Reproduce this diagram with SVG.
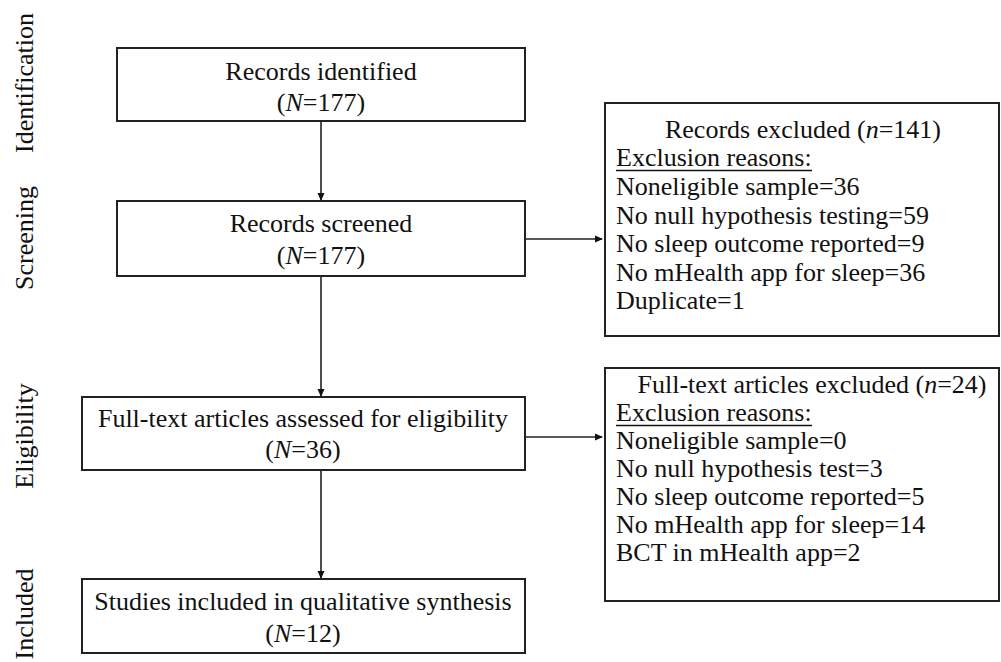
<svg xmlns="http://www.w3.org/2000/svg" width="1001" height="662" viewBox="0 0 1001 662">
<style>
text{font-family:"Liberation Serif","Times New Roman",serif;font-size:26px;fill:#111}
.c{text-anchor:middle}
.box{fill:#fff;stroke:#222;stroke-width:2}
.ln{stroke:#222;stroke-width:1.6;fill:none}
.ul{stroke:#111;stroke-width:1.6}
.lab{text-anchor:middle}
</style>
<defs>
<marker id="ah" markerWidth="8" markerHeight="8" refX="7" refY="4" orient="auto" markerUnits="userSpaceOnUse">
<path d="M0,0.5 L8,4 L0,7.5 Z" fill="#111"/>
</marker>
</defs>
<g id="stage-labels">
<text class="lab" transform="translate(33,83) rotate(-90)">Identification</text>
<text class="lab" transform="translate(33,238) rotate(-90)">Screening</text>
<text class="lab" transform="translate(33,436) rotate(-90)">Eligibility</text>
<text class="lab" transform="translate(33,614) rotate(-90)">Included</text>
</g>
<g id="connectors">
<line class="ln" x1="321" y1="121" x2="321" y2="200" marker-end="url(#ah)"/>
<line class="ln" x1="321" y1="276" x2="321" y2="396" marker-end="url(#ah)"/>
<line class="ln" x1="321" y1="470" x2="321" y2="578" marker-end="url(#ah)"/>
<line class="ln" x1="525" y1="239" x2="602" y2="239" marker-end="url(#ah)"/>
<line class="ln" x1="525" y1="437" x2="602" y2="437" marker-end="url(#ah)"/>
</g>
<g id="node-identified">
<rect class="box" x="117" y="48" width="408" height="73"/>
<text class="c" x="321" y="80">Records identified</text>
<text class="c" x="321" y="111">(<tspan font-style="italic">N</tspan>=177)</text>
</g>
<g id="node-screened">
<rect class="box" x="117" y="201" width="408" height="75"/>
<text class="c" x="321" y="232">Records screened</text>
<text class="c" x="321" y="264">(<tspan font-style="italic">N</tspan>=177)</text>
</g>
<g id="node-records-excluded">
<rect class="box" x="605" y="103" width="394" height="233"/>
<text class="c" x="803" y="138">Records excluded (<tspan font-style="italic">n</tspan>=141)</text>
<text x="616" y="166">Exclusion reasons:</text>
<line class="ul" x1="616" y1="170.5" x2="812" y2="170.5"/>
<text x="616" y="195">Noneligible sample=36</text>
<text x="616" y="223.5">No null hypothesis testing=59</text>
<text x="616" y="252">No sleep outcome reported=9</text>
<text x="616" y="280.5">No mHealth app for sleep=36</text>
<text x="616" y="309">Duplicate=1</text>
</g>
<g id="node-assessed">
<rect class="box" x="82" y="397" width="443" height="73"/>
<text class="c" x="303" y="427">Full-text articles assessed for eligibility</text>
<text class="c" x="303" y="458">(<tspan font-style="italic">N</tspan>=36)</text>
</g>
<g id="node-fulltext-excluded">
<rect class="box" x="605" y="368" width="394" height="233"/>
<text class="c" x="812" y="393">Full-text articles excluded (<tspan font-style="italic">n</tspan>=24)</text>
<text x="616" y="421">Exclusion reasons:</text>
<line class="ul" x1="616" y1="425.5" x2="812" y2="425.5"/>
<text x="616" y="449">Noneligible sample=0</text>
<text x="616" y="477">No null hypothesis test=3</text>
<text x="616" y="505">No sleep outcome reported=5</text>
<text x="616" y="533">No mHealth app for sleep=14</text>
<text x="616" y="561">BCT in mHealth app=2</text>
</g>
<g id="node-included">
<rect class="box" x="82" y="579" width="443" height="74"/>
<text class="c" x="303" y="610">Studies included in qualitative synthesis</text>
<text class="c" x="303" y="642">(<tspan font-style="italic">N</tspan>=12)</text>
</g>
</svg>
